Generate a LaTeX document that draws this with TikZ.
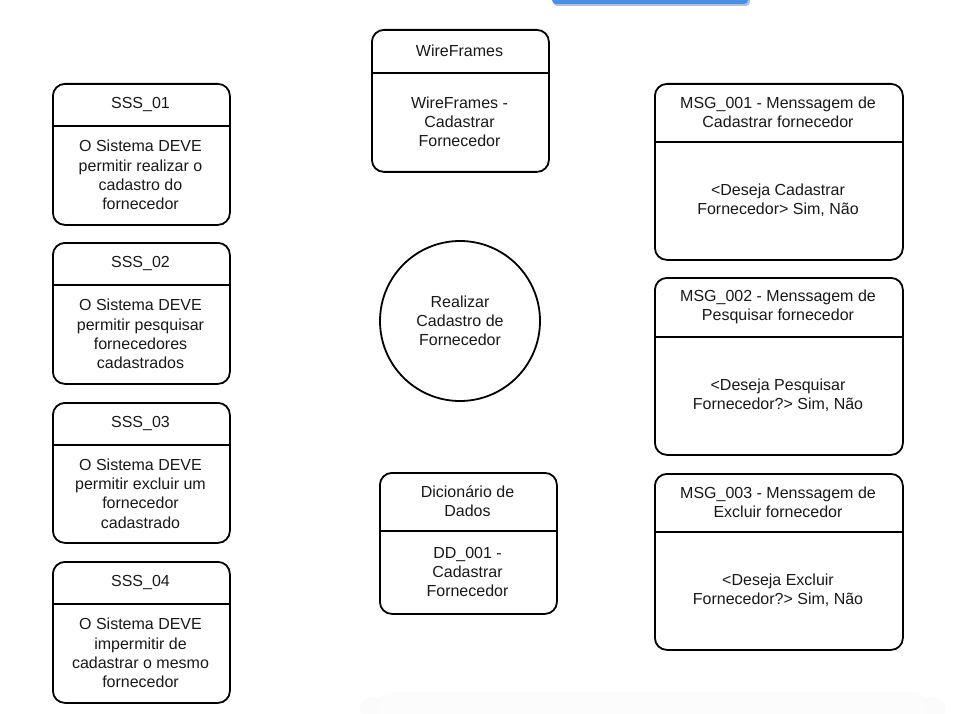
\documentclass[tikz,border=0pt]{standalone}
\usepackage{fontspec}
\setmainfont{Liberation Sans}
\definecolor{barblue}{HTML}{4A90E2}
\tikzset{
  card/.style={draw=black, line width=1.8pt, rounded corners=12pt, fill=white, inner sep=0pt},
  divider/.style={draw=black, line width=1.6pt},
  label/.style={align=center, inner sep=0pt, font=\fontsize{16}{19.2}\selectfont, text=black!90},
  bubble/.style={draw=black, line width=1.8pt, circle, inner sep=0pt},
}
% #1 name, #2 left, #3 top, #4 right, #5 bottom, #6 divider y, #7 title, #8 body
\newcommand\cardbox[8]{%
  \node[card, anchor=north west, minimum width={#4-#2}, minimum height={#5-#3}] (#1) at (#2,#3) {};
  \draw[divider] (#1.west |- 0,#6) -- (#1.east |- 0,#6);
  \node[label] (#1-title) at ({(#2+#4)/2},{(#3+#6)/2}) {#7};
  \node[label] (#1-body) at ({(#2+#4)/2},{(#6+#5)/2}) {#8};
}
\begin{document}
\begin{tikzpicture}[x=1pt, y=-1pt]
  \useasboundingbox[fill=white] (0,0) rectangle (963,714);

  % soft band along the bottom edge
  \fill[black!1.5, rounded corners=10pt] (360,698) rectangle (945,720);
  \fill[black!1, rounded corners=10pt] (380,692) rectangle (925,720);

  % blue bar clipped at the top
  \fill[black!25, rounded corners=4pt] (553,-10) rectangle (750,6);
  \fill[barblue, rounded corners=4pt] (552,-10) rectangle (748,4);

  % requirement cards
  \cardbox{sss1}{52}{83}{229}{224}{126}{SSS\_01}{O Sistema DEVE\\permitir realizar o\\cadastro do\\fornecedor}
  \cardbox{sss2}{52}{242}{229}{383}{285}{SSS\_02}{O Sistema DEVE\\permitir pesquisar\\fornecedores\\cadastrados}
  \cardbox{sss3}{52}{402}{229}{542}{445}{SSS\_03}{O Sistema DEVE\\permitir excluir um\\fornecedor\\cadastrado}
  \cardbox{sss4}{52}{561}{229}{702}{604}{SSS\_04}{O Sistema DEVE\\impermitir de\\cadastrar o mesmo\\fornecedor}

  % middle column
  \cardbox{wf}{371}{29}{548}{171}{73}{WireFrames}{WireFrames -\\Cadastrar\\Fornecedor}
  \node[bubble, minimum size=160pt] (uc) at (460,321) {};
  \node[label] (uc-text) at (460,321) {Realizar\\Cadastro de\\Fornecedor};
  \cardbox{dd}{379}{472}{556}{613}{531}{Dicionário de\\Dados}{DD\_001 -\\Cadastrar\\Fornecedor}

  % message cards
  \cardbox{msg1}{654}{83}{902}{259}{142}{MSG\_001 - Menssagem de\\Cadastrar fornecedor}{<Deseja Cadastrar\\Fornecedor> Sim, Não}
  \cardbox{msg2}{654}{277}{902}{454}{337}{MSG\_002 - Menssagem de\\Pesquisar fornecedor}{<Deseja Pesquisar\\Fornecedor?> Sim, Não}
  \cardbox{msg3}{654}{473}{902}{649}{532}{MSG\_003 - Menssagem de\\Excluir fornecedor}{<Deseja Excluir\\Fornecedor?> Sim, Não}
\end{tikzpicture}
\end{document}
